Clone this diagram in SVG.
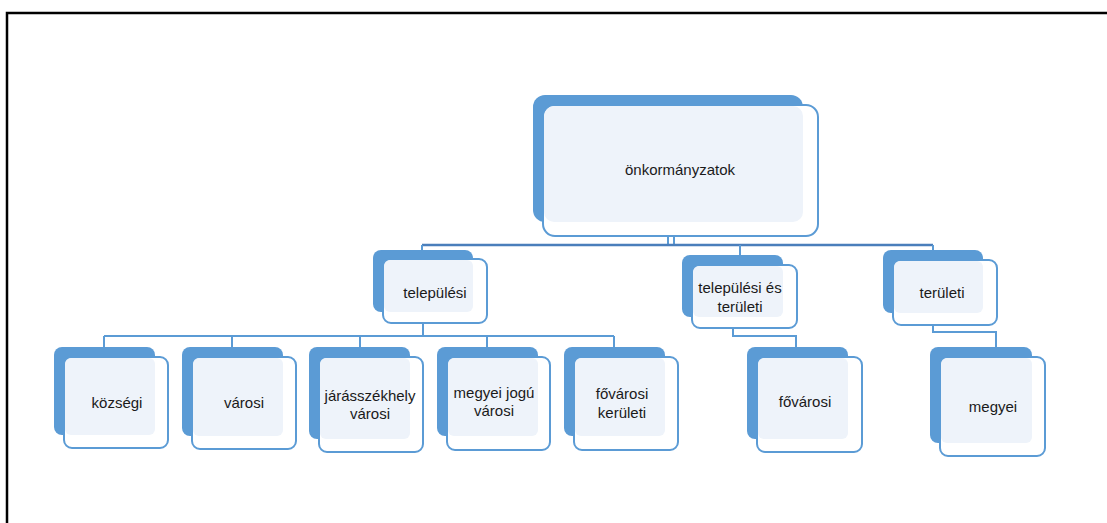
<svg xmlns="http://www.w3.org/2000/svg" width="1107" height="523" viewBox="0 0 1107 523">
<style>
.back{fill:#5B9BD5}
.front{fill:#ffffff;stroke:#5B9BD5;stroke-width:2}
.light{fill:#EEF3FA}
.lbl{font-family:"Liberation Sans",Arial,sans-serif;font-size:15px;fill:#1a1a1a;text-anchor:middle}
.con{fill:none;stroke:#5B9BD5;stroke-width:2}
.main{fill:none;stroke:#4A7EBB;stroke-width:2.5}
</style>
<rect x="0" y="0" width="1107" height="523" fill="#ffffff"/>
<path d="M7,523 V13 H1107" fill="none" stroke="#000" stroke-width="2.5"/>
<g id="connectors">
<path class="con" d="M668,236 V245 M674,236 V245" stroke-width="1.5"/>
<path class="main" d="M422,245 H933"/>
<path class="con" d="M422,245 V252 M740,245 V257 M933,245 V252"/>
<path class="con" d="M423,323 V336 M104,336 H614 M104,336 V348 M232,336 V348 M360,336 V348 M487,336 V348 M614,336 V348"/>
<path class="con" d="M733,328 V336 H796 V348"/>
<path class="con" d="M933,325 V332 H996 V348"/>
</g>
<g id="n-onkormanyzatok">
<rect class="back" x="533" y="95" width="270" height="127" rx="12"/>
<rect class="front" x="543" y="105" width="275" height="131" rx="12"/>
<rect class="light" x="544" y="106" width="259" height="116" rx="10"/>
<text class="lbl" x="680" y="175">önkormányzatok</text>
</g>
<g id="n-telepulesi">
<rect class="back" x="373" y="250" width="100" height="62" rx="8"/>
<rect class="front" x="383" y="259" width="104" height="64" rx="8"/>
<rect class="light" x="384" y="260" width="89" height="52" rx="6"/>
<text class="lbl" x="435" y="298">települési</text>
</g>
<g id="n-telepulesi-es-teruleti">
<rect class="back" x="682" y="255" width="101" height="62" rx="8"/>
<rect class="front" x="692" y="265" width="105" height="63" rx="8"/>
<rect class="light" x="693" y="266" width="90" height="51" rx="6"/>
<text class="lbl" x="740" y="293">települési és</text>
<text class="lbl" x="740" y="312">területi</text>
</g>
<g id="n-teruleti">
<rect class="back" x="883" y="250" width="100" height="63" rx="8"/>
<rect class="front" x="893" y="260" width="104" height="65" rx="8"/>
<rect class="light" x="894" y="261" width="89" height="52" rx="6"/>
<text class="lbl" x="942" y="298">területi</text>
</g>
<g id="n-kozsegi">
<rect class="back" x="54" y="347" width="101" height="88" rx="8"/>
<rect class="front" x="64" y="357" width="104" height="91" rx="8"/>
<rect class="light" x="65" y="358" width="90" height="77" rx="6"/>
<text class="lbl" x="117" y="408">községi</text>
</g>
<g id="n-varosi">
<rect class="back" x="182" y="347" width="101" height="89" rx="8"/>
<rect class="front" x="192" y="357" width="104" height="92" rx="8"/>
<rect class="light" x="193" y="358" width="90" height="78" rx="6"/>
<text class="lbl" x="244" y="408">városi</text>
</g>
<g id="n-jarasszekhely">
<rect class="back" x="309" y="347" width="101" height="92" rx="8"/>
<rect class="front" x="319" y="357" width="104" height="95" rx="8"/>
<rect class="light" x="320" y="358" width="90" height="81" rx="6"/>
<text class="lbl" x="370" y="401">járásszékhely</text>
<text class="lbl" x="370" y="419">városi</text>
</g>
<g id="n-megyei-jogu">
<rect class="back" x="437" y="347" width="101" height="89" rx="8"/>
<rect class="front" x="447" y="357" width="103" height="93" rx="8"/>
<rect class="light" x="448" y="358" width="90" height="78" rx="6"/>
<text class="lbl" x="494" y="398">megyei jogú</text>
<text class="lbl" x="494" y="416">városi</text>
</g>
<g id="n-fovarosi-keruleti">
<rect class="back" x="564" y="347" width="101" height="89" rx="8"/>
<rect class="front" x="574" y="357" width="104" height="93" rx="8"/>
<rect class="light" x="575" y="358" width="90" height="78" rx="6"/>
<text class="lbl" x="622" y="399">fővárosi</text>
<text class="lbl" x="622" y="418">kerületi</text>
</g>
<g id="n-fovarosi">
<rect class="back" x="747" y="347" width="101" height="92" rx="8"/>
<rect class="front" x="757" y="357" width="105" height="95" rx="8"/>
<rect class="light" x="758" y="358" width="90" height="81" rx="6"/>
<text class="lbl" x="805" y="407">fővárosi</text>
</g>
<g id="n-megyei">
<rect class="back" x="930" y="347" width="102" height="96" rx="8"/>
<rect class="front" x="940" y="357" width="105" height="99" rx="8"/>
<rect class="light" x="941" y="358" width="91" height="85" rx="6"/>
<text class="lbl" x="993" y="412">megyei</text>
</g>
</svg>
